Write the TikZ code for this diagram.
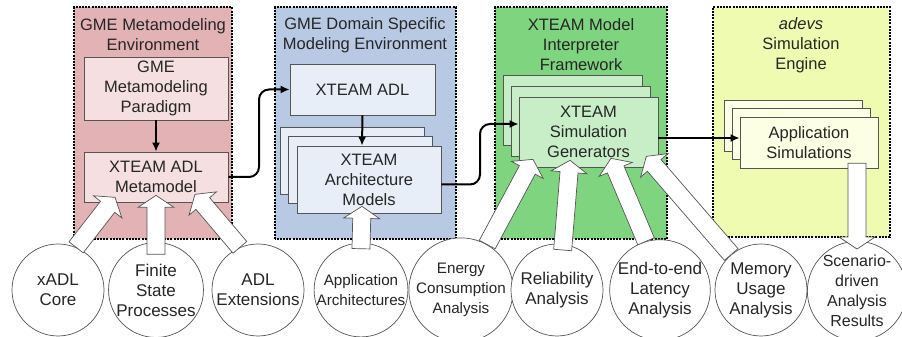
\documentclass[tikz,border=0pt]{standalone}
\usepackage{fontspec}
\setmainfont{Liberation Sans}
\usepackage{tikz}
\usetikzlibrary{arrows.meta,calc,shadows}

\definecolor{redpanel}{HTML}{E3B2B4}
\definecolor{redbox}{HTML}{F5DFE0}
\definecolor{bluepanel}{HTML}{B8C9E3}
\definecolor{bluebox}{HTML}{E8EEF8}
\definecolor{greenpanel}{HTML}{7FD47F}
\definecolor{greenbox}{HTML}{C8EEC8}
\definecolor{yellowpanel}{HTML}{EFFBB0}
\definecolor{yellowbox}{HTML}{FCFFE4}
\definecolor{linegray}{HTML}{555555}
\definecolor{txt}{HTML}{262626}

\tikzset{
  panel/.style={draw=black, line width=1.1pt, dash pattern=on 2pt off 1.2pt},
  title/.style={align=center, font=\fontsize{16.5}{20}\selectfont, text=txt},
  box/.style={draw=linegray, line width=0.7pt, align=center, inner sep=0pt,
    font=\fontsize{16.5}{20}\selectfont, text=txt},
  ana/.style={circle, draw=linegray, fill=white, line width=0.7pt,
    minimum size=92pt, inner sep=0pt, align=center,
    font=\fontsize{17}{20}\selectfont, text=txt},
  small/.style={font=\fontsize{15.2}{20}\selectfont},
  flow/.style={line width=2pt, rounded corners=10pt, -{Latex[length=9pt,width=8pt]}},
  fat/.style={draw=linegray, fill=white, line width=0.7pt, line join=miter}
}

% hollow block arrow from #1 (tail) to #2 (tip)
\newcommand{\fatarrow}[2]{%
  \path (#1) coordinate (fa-t) (#2) coordinate (fa-h);
  \coordinate (fa-b) at ($(fa-h)!12pt!(fa-t)$);
  \draw[fat] ($(fa-t)!9pt!90:(fa-h)$) -- ($(fa-b)!9pt!-90:(fa-t)$)
    -- ($(fa-b)!18pt!-90:(fa-t)$) -- (fa-h) -- ($(fa-b)!18pt!90:(fa-t)$)
    -- ($(fa-b)!9pt!90:(fa-t)$) -- ($(fa-t)!9pt!-90:(fa-h)$) -- cycle;}

\begin{document}
\begin{tikzpicture}[x=1pt,y=1pt]
  \path[use as bounding box, fill=white] (0,0) rectangle (902,337);

  % the four environments
  \draw[panel, fill=redpanel]    (74,98)  rectangle (232,330);
  \draw[panel, fill=bluepanel]   (275,98) rectangle (456,330);
  \draw[panel, fill=greenpanel]  (495,98) rectangle (667,330);
  \draw[panel, fill=yellowpanel] (713,100) rectangle (890,330);

  \node[title] (tgme)  at (153,302) {GME Metamodeling\\Environment};
  \node[title] (tdsme) at (365,302) {GME Domain Specific\\Modeling Environment};
  \node[title] (tmif)  at (581,292) {XTEAM Model\\Interpreter\\Framework};
  \node[title] (tsim)  at (801,292) {\textit{adevs}\\Simulation\\Engine};

  % boxes
  \node[box, fill=redbox, minimum width=144pt, minimum height=63pt] (paradigm)
    at (156,248.5) {GME\\Metamodeling\\Paradigm};
  \node[box, fill=redbox, minimum width=144pt, minimum height=50pt] (meta)
    at (156,160) {XTEAM ADL\\Metamodel};
  \node[box, fill=bluebox, minimum width=145pt, minimum height=51pt] (adl)
    at (362.5,247.5) {XTEAM ADL};
  \node[box, fill=bluebox, minimum width=144pt, minimum height=67pt,
    copy shadow={shadow xshift=-17pt, shadow yshift=19pt, fill=bluebox, draw=linegray},
    copy shadow={shadow xshift=-8.5pt, shadow yshift=9.5pt, fill=bluebox, draw=linegray}] (arch)
    at (369,157.5) {XTEAM\\Architecture\\Models};
  \node[box, fill=greenbox, minimum width=139pt, minimum height=70pt,
    copy shadow={shadow xshift=-16pt, shadow yshift=22pt, fill=greenbox, draw=linegray},
    copy shadow={shadow xshift=-8pt, shadow yshift=11pt, fill=greenbox, draw=linegray}] (gen)
    at (588.5,205) {XTEAM\\Simulation\\Generators};
  \node[box, fill=yellowbox, minimum width=138pt, minimum height=51pt,
    copy shadow={shadow xshift=-16pt, shadow yshift=17pt, fill=yellowbox, draw=linegray},
    copy shadow={shadow xshift=-8pt, shadow yshift=8.5pt, fill=yellowbox, draw=linegray}] (app)
    at (809,194.5) {Application\\Simulations};

  % analyses and inputs
  \node[ana] (xadl)    at (58,47)  {xADL\\Core};
  \node[ana] (fsp)     at (156,47) {Finite\\State\\Processes};
  \node[ana] (ext)     at (258,47) {ADL\\Extensions};
  \node[ana, small] (apparch) at (361,47) {Application\\Architectures};
  \node[ana, small] (energy)  at (461,47) {Energy\\Consumption\\Analysis};
  \node[ana] (rel)     at (557,47) {Reliability\\Analysis};
  \node[ana] (lat)     at (660,47) {End-to-end\\Latency\\Analysis};
  \node[ana] (mem)     at (761,47) {Memory\\Usage\\Analysis};
  \node[ana, font=\fontsize{16}{20}\selectfont] (scen) at (857,46)
    {Scenario-\\driven\\Analysis\\Results};

  % flow between tools
  \draw[flow] (paradigm.south) -- (meta.north);
  \draw[flow] (adl.south) -- ([xshift=-7pt]arch.north);
  \draw[flow] (meta.east) -| ($(meta.east)!.5!(adl.west)$) |- (adl.west);
  \draw[flow] ([yshift=-5pt]arch.east) -| ($([yshift=-5pt]arch.east)!.5!([yshift=8pt]gen.west)$)
    |- ([yshift=8pt]gen.west);
  \draw[flow] ([yshift=-6pt]gen.east) -- ([yshift=4.5pt]app.west);

  % inputs into the boxes
  \fatarrow{xadl.67}{[shift={(-41,5)}]meta.south}
  \fatarrow{[yshift=-12pt]fsp.north}{[yshift=7pt]meta.south}
  \fatarrow{ext.113}{[shift={(39,8)}]meta.south}
  \fatarrow{[yshift=-6pt]apparch.north}{[shift={(-7,7)}]arch.south}
  \fatarrow{energy.60}{[shift={(-55.5,8)}]gen.south}
  \fatarrow{[yshift=-6pt]rel.83}{[shift={(-18.5,7)}]gen.south}
  \fatarrow{lat.106}{[shift={(22.5,9)}]gen.south}
  \fatarrow{mem.130}{[shift={(-12,11)}]gen.south east}
  \fatarrow{[shift={(48,5)}]app.south}{[yshift=-8pt]scen.north}
\end{tikzpicture}
\end{document}
